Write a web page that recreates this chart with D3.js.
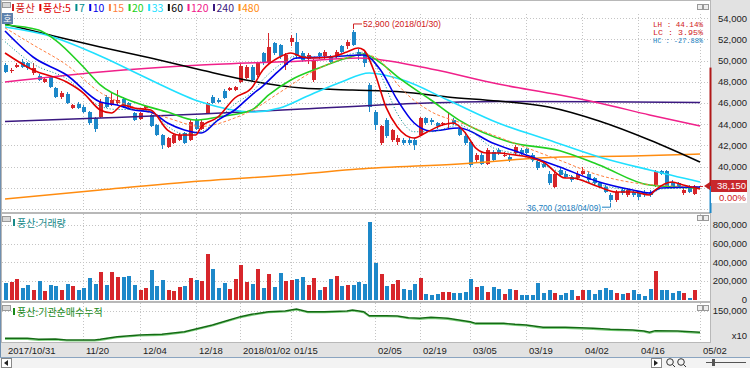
<!DOCTYPE html>
<html>
<head>
<meta charset="utf-8">
<script src="https://cdn.jsdelivr.net/npm/d3@7/dist/d3.min.js"></script>
<style>
  body { margin: 0; background: #fff; }
  svg { display: block; font-family: 'Liberation Sans', Arial, sans-serif; }
  .kr { font-family: 'Noto Sans CJK KR', sans-serif; }
</style>
</head>
<body>
<svg id="chart" width="750" height="368"></svg>
<script>
// trading days on the chart
const dates = [
  '2017/10/31',
  '2017/11/01','2017/11/02','2017/11/03','2017/11/06','2017/11/07','2017/11/08','2017/11/09','2017/11/10','2017/11/13','2017/11/14','2017/11/15',
  '2017/11/16','2017/11/17','2017/11/20','2017/11/21','2017/11/22','2017/11/23','2017/11/24','2017/11/27','2017/11/28','2017/11/29','2017/11/30',
  '2017/12/01','2017/12/04','2017/12/05','2017/12/06','2017/12/07','2017/12/08','2017/12/11','2017/12/12','2017/12/13','2017/12/14','2017/12/15',
  '2017/12/18','2017/12/19','2017/12/20','2017/12/21','2017/12/22','2017/12/26','2017/12/27','2017/12/28',
  '2018/01/02','2018/01/03','2018/01/04','2018/01/05','2018/01/08','2018/01/09','2018/01/10','2018/01/11','2018/01/12','2018/01/15','2018/01/16',
  '2018/01/17','2018/01/18','2018/01/19','2018/01/22','2018/01/23','2018/01/24','2018/01/25','2018/01/26','2018/01/29','2018/01/30','2018/01/31',
  '2018/02/01','2018/02/02','2018/02/05','2018/02/06','2018/02/07','2018/02/08','2018/02/09','2018/02/12','2018/02/13','2018/02/14','2018/02/19',
  '2018/02/20','2018/02/21','2018/02/22','2018/02/23','2018/02/26','2018/02/27','2018/02/28',
  '2018/03/02','2018/03/05','2018/03/06','2018/03/07','2018/03/08','2018/03/09','2018/03/12','2018/03/13','2018/03/14','2018/03/15','2018/03/16',
  '2018/03/19','2018/03/20','2018/03/21','2018/03/22','2018/03/23','2018/03/26','2018/03/27','2018/03/28','2018/03/29','2018/03/30',
  '2018/04/02','2018/04/03','2018/04/04','2018/04/05','2018/04/06','2018/04/09','2018/04/10','2018/04/11','2018/04/12','2018/04/13','2018/04/16',
  '2018/04/17','2018/04/18','2018/04/19','2018/04/20','2018/04/23','2018/04/24','2018/04/25','2018/04/26','2018/04/27','2018/04/30',
  '2018/05/02'
];

const openP = [
  49600,49050,49450,49900,49750,48800,48550,48000,48500,47400,46600,46900,45500,45950,45650,45200,44550,44700,46600,45800,
  46000,46400,46000,45100,44500,45500,44900,43950,43000,41900,42200,42500,43150,42500,44450,43600,45050,46600,46300,47100,
  47250,47250,48000,48350,49450,48650,50700,49750,51650,51500,49600,51800,51800,50700,50200,48200,50700,50400,50400,50400,
  51350,51350,52750,50850,50700,47700,45200,42200,44400,42500,42350,42500,42500,42500,43000,44550,44400,44100,44000,44050,
  44400,43600,42850,42350,40650,41100,40300,41400,41600,41100,40950,41250,41600,41650,41100,40450,40300,39350,38100,39700,
  39350,39050,38900,39350,39350,38900,38450,38100,37350,36850,37800,37350,37650,37500,37650,37650,38250,39550,39550,38600,
  38450,37500,38100,37450,38150
];
const highP = [
  49750,49350,49800,50200,49900,49750,48700,48350,48600,47500,47100,47000,45900,46100,45800,45300,44700,46400,46800,47050,
  47200,46550,46150,45200,45150,45850,45000,44050,43100,42800,43100,43200,43300,44400,44600,44400,46100,46750,46500,47300,
  47550,47650,49650,49550,49600,49900,50850,52600,51800,51600,50700,52450,52600,50900,50700,50200,50850,51000,50550,51000,
  51500,51950,52900,51150,50850,47850,45350,43950,44550,43600,43000,42700,42700,42700,44700,44700,44550,44250,44250,45200,
  44550,43800,43300,42500,41250,41250,41750,41600,41750,41400,41100,42050,41750,41800,41250,40650,40450,39550,39550,39850,
  39550,39200,39550,40000,39550,39050,38600,38250,37500,37800,37950,37950,37800,37650,37800,37800,39700,39700,39700,38750,
  38600,37950,38250,38300,38150
];
const lowP = [
  48800,48800,49300,49300,49100,48650,48100,47900,47450,46500,46400,45900,45400,45400,45100,43900,43300,44600,45500,45700,
  45800,45550,45500,44300,44400,45400,43700,42900,41700,41800,42100,42400,42100,42400,43500,43500,44950,45900,46000,46350,
  47100,47150,47900,48250,48000,48500,49600,49600,50500,50200,49100,51350,50200,49900,49700,48000,50200,50200,49750,50200,
  50700,51150,51350,50050,49450,45200,43450,42050,42700,42350,42050,42050,42050,41600,42850,43950,43950,43600,43800,43600,
  43950,42850,42050,40000,40450,40150,40150,40450,41100,40950,40450,41100,41100,41200,40450,39700,39850,38250,37950,39050,
  38900,38600,38750,39200,38600,38250,37950,37500,36700,36700,37350,37150,37150,36850,37150,37150,38100,39200,37950,37950,
  37950,37350,37500,37300,38150
];
const closeP = [
  48950,49150,49600,49450,49300,49300,48200,48250,47550,46600,46950,46000,45800,45500,45200,44100,43600,46150,45650,46250,
  46300,45650,45600,44400,45050,45750,43800,43000,42050,42700,43000,43000,42200,44250,43600,44250,46000,46000,46150,46450,
  47400,47550,49500,49450,48200,49750,49750,51300,50700,50400,50550,52100,50400,50050,50550,50050,50400,50850,49900,50850,
  50850,51800,51500,50400,49750,45650,43950,43800,42850,43450,42700,42200,42200,42050,44550,44100,44250,43800,44100,44150,
  44100,43000,42200,40150,41100,40300,41600,40650,41250,41150,40650,41900,41250,41300,40650,39850,40000,38450,39350,39200,
  39050,38750,39350,39550,38750,38450,38100,37650,36850,37650,37500,37800,37350,37150,37350,37350,39550,39350,38100,38100,
  38100,37800,37650,38150,38150
];
const volume = [
  179000,190000,218000,129000,154000,100000,197000,89000,161000,143000,100000,165000,150000,107000,122000,233000,165000,297000,161000,297000,
  243000,240000,251000,161000,100000,122000,312000,143000,211000,107000,93000,136000,143000,233000,211000,197000,494000,333000,129000,175000,
  118000,218000,369000,186000,165000,330000,120000,270000,135000,285000,195000,205000,220000,240000,160000,230000,105000,130000,220000,250000,
  150000,155000,160000,190000,165000,835000,394000,279000,143000,165000,208000,118000,107000,165000,233000,64000,46000,57000,78000,78000,
  71000,71000,78000,218000,136000,150000,82000,136000,118000,57000,118000,100000,46000,46000,53000,175000,71000,107000,71000,46000,
  71000,100000,35000,100000,100000,64000,107000,129000,100000,71000,57000,71000,100000,64000,39000,114000,304000,100000,100000,71000,
  89000,71000,21000,107000,0
];

// moving averages: [day index, price]
const ma5 = [[0,50730],[5,49120],[11,47990],[14,46950],[17,45350],[19,45070],[21,45820],[23,45540],[26,45350],[29,43460],[31,42990],[34,42990],[35,43750],[38,44690],[41,46480],[44,47420],[46,49120],[49,50350],[51,50730],[53,50350],[55,50250],[58,50350],[61,50820],[63,51200],[64,51010],[66,48800],[68,45600],[70,43750],[73,42710],[75,43180],[78,43930],[80,44120],[82,43270],[84,41760],[86,41290],[88,41290],[91,41100],[94,40820],[96,40440],[100,38930],[101,38930],[106,38090],[109,37610],[112,37610],[115,37330],[116,37800],[119,38560],[121,38270],[124,37900]];
const ma7 = [[0,51800],[5,49700],[11,48300],[17,45700],[20,45400],[23,45400],[26,45250],[29,43800],[32,43100],[35,43300],[38,44500],[41,45900],[44,47000],[46,48200],[49,49600],[52,50400],[58,50300],[64,50800],[67,48700],[70,45000],[73,43300],[76,43300],[81,43900],[87,41800],[92,41100],[99,39500],[106,38300],[112,37700],[115,37400],[117,37900],[124,38000]];
const ma10 = [[0,52800],[5,50350],[11,48650],[17,46100],[20,45820],[23,45350],[26,45160],[29,44120],[32,43460],[35,43180],[38,44400],[41,45350],[44,46760],[46,47610],[49,49120],[52,50250],[58,50350],[64,50540],[67,49120],[70,46300],[73,44120],[76,43370],[81,43650],[87,42240],[92,41290],[99,39970],[106,38560],[112,37800],[115,37520],[117,37990],[124,38090]];
const ma15 = [[0,53100],[5,51500],[11,49600],[17,47000],[23,45600],[29,44600],[35,43800],[41,44600],[44,45300],[49,47000],[55,49000],[61,50300],[64,50600],[67,50000],[70,47800],[76,45200],[81,44200],[87,43000],[92,42000],[99,40600],[106,39200],[112,38500],[118,38200],[124,38100]];
const ma20 = [[0,53370],[6,52900],[9,51950],[14,49400],[17,47710],[23,46100],[29,45160],[34,44400],[38,44690],[44,45350],[47,46760],[51,48180],[56,49310],[61,50250],[64,50630],[67,49800],[70,48500],[76,46290],[81,44400],[90,42330],[99,41500],[106,40160],[115,38270],[124,37990]];
const ma33 = [[0,53180],[8,52330],[17,50440],[26,48180],[35,46100],[44,45160],[49,45540],[54,46670],[60,47990],[65,48840],[71,48180],[79,46290],[88,44120],[97,42520],[106,40920],[115,39690],[124,38560]];
const ma60 = [[0,53460],[8,52420],[17,51290],[26,50250],[35,49120],[44,48080],[53,47420],[62,47240],[71,47050],[79,46580],[88,46200],[97,45630],[106,44310],[115,42520],[124,40440]];
const ma120 = [[0,47990],[17,48930],[35,49590],[53,49970],[63,50250],[76,49220],[88,47800],[99,46760],[106,46010],[115,44880],[124,43840]];
const ma240 = [[0,44260],[17,44590],[35,44970],[53,45440],[71,45920],[88,46150],[106,46130],[124,46060]];
const ma480 = [[0,36950],[17,37800],[35,38650],[53,39310],[63,39780],[81,40260],[99,40920],[112,41010],[124,41200]];

// institutional net buying, cumulative (x10 shares): [day index, value]
const instCum = [[0,13400],[4,13400],[6,8400],[9,9900],[11,5000],[16,5000],[17,8400],[20,21300],[24,29700],[28,33200],[32,46000],[37,79200],[40,104000],[42,120300],[44,132200],[47,145000],[50,148500],[52,158400],[54,145000],[57,145000],[61,148500],[62,153500],[64,145000],[65,125200],[68,125200],[70,123800],[72,115300],[74,112400],[76,117300],[79,112400],[83,95500],[84,87600],[89,87600],[91,82700],[93,79200],[96,67800],[100,67800],[105,62900],[108,57900],[112,54500],[114,49500],[115,43100],[116,51000],[120,49500],[124,43100]];

const xTickDates = ['2017/10/31','2017/11/20','2017/12/04','2017/12/18','2018/01/02','2018/01/15','2018/02/05','2018/02/19','2018/03/05','2018/03/19','2018/04/02','2018/04/16','2018/05/02'];
const xTickLabels = ['2017/10/31','11/20','12/04','12/18','2018/01/02','01/15','02/05','02/19','03/05','03/19','04/02','04/16','05/02'];
const priceTicks = [40000, 42000, 44000, 46000, 48000, 50000, 52000, 54000];
const priceGrid = [36000, 38000, 40000, 42000, 44000, 46000, 48000, 50000, 52000, 54000];
const volTicks = [0, 200000, 400000, 600000, 800000];
const instTicks = [150000];

const lastPrice = 38150;
const rangeTop = 49350;
const highMark = { idx: 62, price: 52900, text: '52,900 (2018/01/30)' };
const lowMark = { idx: 108, price: 36700, text: '36,700 (2018/04/09)' };
const statLines = [
  { text: 'LH :  44.14%', color: '#d02020' },
  { text: 'LC :   3.95%', color: '#d02020' },
  { text: 'HC : -27.88%', color: '#2080c0' }
];

const maSeries = [
  { name: '풍산', data: null, color: '#d42020' },
  { name: '풍산:5', data: ma5, color: '#e00000', width: 1.6 },
  { name: '7', data: ma7, color: '#008c8c', width: 1, dash: '1,2' },
  { name: '10', data: ma10, color: '#0000e8', width: 1.6 },
  { name: '15', data: ma15, color: '#ff8040', width: 1, dash: '3,2' },
  { name: '20', data: ma20, color: '#22d022', width: 1.6 },
  { name: '33', data: ma33, color: '#20e0ff', width: 1.6 },
  { name: '60', data: ma60, color: '#000000', width: 1.5 },
  { name: '120', data: ma120, color: '#f0208a', width: 1.5 },
  { name: '240', data: ma240, color: '#3a1880', width: 1.5 },
  { name: '480', data: ma480, color: '#ff8c10', width: 1.5 }
];

const upColor = '#d7262b';
const downColor = '#1d88c9';

const svg = d3.select('#chart');

// scales
const x = d3.scalePoint().domain(dates).range([5, 700]);
const yP = d3.scaleLinear().domain([35915, 54783]).range([210, 10]);
const yV = d3.scaleLinear().domain([0, 930000]).range([299.5, 213]);
const yI = d3.scaleLinear().domain([0, 150000]).range([341, 310.7]);
const xi = i => x(dates[i]);
const px = i => Math.round(xi(i));

// backgrounds
svg.append('rect').attr('width', 750).attr('height', 368).attr('fill', '#fff');
svg.append('rect').attr('x', 711).attr('y', 0).attr('width', 39).attr('height', 357).attr('fill', '#e2e2e2');
svg.append('rect').attr('x', 0).attr('y', 343).attr('width', 750).attr('height', 14).attr('fill', '#e2e2e2');
svg.append('rect').attr('x', 0).attr('y', 357).attr('width', 750).attr('height', 11).attr('fill', '#f3f3f3');
svg.append('line').attr('x1', 0).attr('x2', 750).attr('y1', 357.5).attr('y2', 357.5).attr('stroke', '#8aa4c0');

// panel frames
[[0, 212], [213, 301], [302, 342]].forEach(([t, b]) => {
  svg.append('rect').attr('x', 1.5).attr('y', t + 0.5).attr('width', 709).attr('height', b - t)
    .attr('fill', 'none').attr('stroke', '#b8b8b8');
});
svg.append('line').attr('x1', 0.5).attr('x2', 0.5).attr('y1', 0).attr('y2', 357).attr('stroke', '#6f8fb0');

// gridlines
const grid = svg.append('g').attr('stroke', '#c4c4c4').attr('stroke-dasharray', '1,2').attr('shape-rendering', 'crispEdges');
priceGrid.forEach(p => grid.append('line').attr('x1', 2).attr('x2', 710).attr('y1', Math.round(yP(p)) + 0.5).attr('y2', Math.round(yP(p)) + 0.5));
volTicks.slice(1).forEach(v => grid.append('line').attr('x1', 2).attr('x2', 710).attr('y1', Math.round(yV(v)) + 0.5).attr('y2', Math.round(yV(v)) + 0.5));
instTicks.forEach(v => grid.append('line').attr('x1', 2).attr('x2', 710).attr('y1', Math.round(yI(v)) + 0.5).attr('y2', Math.round(yI(v)) + 0.5));
xTickDates.slice(1).forEach(d => {
  const gx = Math.round(x(d)) + 0.5;
  [[14, 212], [214, 301], [303, 342]].forEach(([a, b]) => grid.append('line').attr('x1', gx).attr('x2', gx).attr('y1', a).attr('y2', b));
});

// clip for price panel
svg.append('clipPath').attr('id', 'clipP').append('rect').attr('x', 2).attr('y', 1).attr('width', 708).attr('height', 211);
const gPrice = svg.append('g').attr('clip-path', 'url(#clipP)');

// candles
const idx = d3.range(dates.length);
const candle = gPrice.append('g').attr('shape-rendering', 'crispEdges').selectAll('g').data(idx).join('g')
  .attr('fill', i => closeP[i] >= openP[i] ? upColor : downColor)
  .attr('stroke', i => closeP[i] >= openP[i] ? upColor : downColor);
candle.append('line')
  .attr('x1', i => px(i) + 0.5).attr('x2', i => px(i) + 0.5)
  .attr('y1', i => yP(highP[i])).attr('y2', i => yP(lowP[i]));
candle.append('rect')
  .attr('x', i => px(i) - 1.5)
  .attr('y', i => yP(Math.max(openP[i], closeP[i])))
  .attr('width', 4)
  .attr('height', i => Math.max(1, Math.abs(yP(openP[i]) - yP(closeP[i]))))
  .attr('stroke', 'none');

// moving average lines
maSeries.filter(s => s.data).slice().reverse().forEach(s => {
  gPrice.append('path')
    .datum(s.data)
    .attr('fill', 'none')
    .attr('stroke', s.color)
    .attr('stroke-width', s.width)
    .attr('stroke-dasharray', s.dash || null)
    .attr('d', d3.line().x(d => xi(d[0])).y(d => yP(d[1])).curve(d3.curveMonotoneX));
});

// high / low markers
gPrice.append('path')
  .attr('d', `M${px(highMark.idx) + 0.5},${yP(highMark.price) - 1} V${yP(highMark.price) - 6} H${px(highMark.idx) + 9}`)
  .attr('fill', 'none').attr('stroke', '#d02020');
gPrice.append('text').attr('x', px(highMark.idx) + 10).attr('y', yP(highMark.price) - 3)
  .attr('fill', '#d02020').attr('font-size', 9.5)
  .attr('textLength', 78).attr('lengthAdjust', 'spacingAndGlyphs').text(highMark.text);
gPrice.append('path')
  .attr('d', `M${px(lowMark.idx) - 8},${yP(lowMark.price) + 5.5} H${px(lowMark.idx) + 0.5} V${yP(lowMark.price) + 1}`)
  .attr('fill', 'none').attr('stroke', '#2080c0');
gPrice.append('text').attr('x', px(lowMark.idx) - 9).attr('y', yP(lowMark.price) + 9)
  .attr('text-anchor', 'end').attr('fill', '#2080c0').attr('font-size', 9.5)
  .attr('textLength', 74).attr('lengthAdjust', 'spacingAndGlyphs').text(lowMark.text);

// LH / LC / HC box
statLines.forEach((s, k) => {
  svg.append('text').attr('x', 703).attr('y', 27 + k * 8)
    .attr('text-anchor', 'end').attr('fill', s.color)
    .attr('font-family', 'Liberation Mono, monospace').attr('font-size', 7)
    .attr('textLength', 50).attr('lengthAdjust', 'spacingAndGlyphs')
    .text(s.text);
});

// legend on top
let lx = 12;
const legend = svg.append('g').attr('class', 'kr').attr('font-size', 10.5);
maSeries.forEach(s => {
  legend.append('rect').attr('x', lx).attr('y', 4).attr('width', 2).attr('height', 7).attr('fill', s.color);
  const t = legend.append('text').attr('x', lx + 3.5).attr('y', 11.5).attr('fill', s.color).text(s.name);
  lx += 3.5 + t.node().getComputedTextLength() + 4.5;
});
// small panel icons
[[2, 2], [2, 216], [2, 305]].forEach(([ix, iy]) => {
  svg.append('rect').attr('x', ix + 0.5).attr('y', iy + 0.5).attr('width', 8).attr('height', 5)
    .attr('fill', '#d8d8d8').attr('stroke', '#999');
});
[[697, 4], [697, 215], [697, 305]].forEach(([bx, by]) => {
  [0, 6].forEach(o => svg.append('rect').attr('x', bx + o + 0.5).attr('y', by + 0.5).attr('width', 5).attr('height', 5)
    .attr('fill', '#eee').attr('stroke', '#999'));
});
svg.append('rect').attr('x', 2).attr('y', 13).attr('width', 11).attr('height', 11).attr('fill', '#5f82ad');
svg.append('text').attr('class', 'kr').attr('x', 7.5).attr('y', 22).attr('text-anchor', 'middle')
  .attr('fill', '#fff').attr('font-size', 9).text('호');

// price axis
const axisText = svg.append('g').attr('font-size', 9.5).attr('fill', '#222').attr('text-anchor', 'end');
priceTicks.forEach(p => axisText.append('text').attr('x', 747).attr('y', yP(p)).attr('dy', '0.35em').text(d3.format(',')(p)));

// range bar and current price
svg.append('line').attr('x1', 710.5).attr('x2', 710.5).attr('y1', yP(rangeTop)).attr('y2', yP(lastPrice))
  .attr('stroke', '#b01818').attr('stroke-width', 2);
svg.append('line').attr('x1', 710.5).attr('x2', 710.5).attr('y1', yP(lastPrice)).attr('y2', 213)
  .attr('stroke', '#1d88c9').attr('stroke-width', 2);
const cy = Math.round(yP(lastPrice));
svg.append('path').attr('d', `M704,${cy} L710,${cy - 4} L710,${cy + 4} Z`).attr('fill', '#c02020');
svg.append('rect').attr('x', 711).attr('y', cy - 6).attr('width', 36).attr('height', 12).attr('fill', '#c8282d');
svg.append('text').attr('x', 746).attr('y', cy).attr('dy', '0.35em').attr('text-anchor', 'end')
  .attr('fill', '#fff').attr('font-size', 9.5).text(d3.format(',')(lastPrice));
svg.append('rect').attr('x', 711).attr('y', cy + 6).attr('width', 36).attr('height', 11).attr('fill', '#fff');
svg.append('text').attr('x', 746).attr('y', cy + 11.5).attr('dy', '0.35em').attr('text-anchor', 'end')
  .attr('fill', '#d02020').attr('font-size', 9.5).text('0.00%');

// volume bars
svg.append('g').attr('shape-rendering', 'crispEdges').selectAll('rect').data(idx).join('rect')
  .attr('x', i => px(i) - 1.5)
  .attr('y', i => yV(volume[i]))
  .attr('width', 4.5)
  .attr('height', i => yV(0) - yV(volume[i]))
  .attr('fill', i => closeP[i] >= openP[i] ? upColor : downColor);
volTicks.forEach(v => axisText.append('text').attr('x', 747).attr('y', yV(v)).attr('dy', '0.35em').text(d3.format(',')(v)));
const volLegend = svg.append('g').attr('class', 'kr').attr('font-size', 10);
volLegend.append('rect').attr('x', 13).attr('y', 219).attr('width', 2).attr('height', 7).attr('fill', '#188a8a');
volLegend.append('text').attr('x', 17).attr('y', 226.5).attr('fill', '#188a8a').text('풍산:거래량');

// institutional cumulative line
svg.append('path').datum(instCum)
  .attr('fill', 'none').attr('stroke', '#7ccf7c').attr('stroke-width', 1.2)
  .attr('d', d3.line().x(d => xi(d[0])).y(d => yI(d[1]) + 1));
svg.append('path').datum(instCum)
  .attr('fill', 'none').attr('stroke', '#136b13').attr('stroke-width', 1.4)
  .attr('d', d3.line().x(d => xi(d[0])).y(d => yI(d[1])));
instTicks.forEach(v => axisText.append('text').attr('x', 747).attr('y', yI(v)).attr('dy', '0.35em').text(d3.format(',')(v)));
axisText.append('text').attr('x', 747).attr('y', 336).attr('dy', '0.35em').text('x10');
const instLegend = svg.append('g').attr('class', 'kr').attr('font-size', 10);
instLegend.append('rect').attr('x', 13).attr('y', 308).attr('width', 2).attr('height', 7).attr('fill', '#1a8a1a');
instLegend.append('text').attr('x', 17).attr('y', 315.5).attr('fill', '#1a8a1a').text('풍산:기관순매수누적');

// date axis
const xAxis = svg.append('g').attr('font-size', 9.5).attr('fill', '#222');
xTickDates.forEach((d, k) => {
  xAxis.append('text').attr('x', Math.round(x(d)) + 3).attr('y', 354).text(xTickLabels[k]);
});

// scrollbar bits
svg.append('rect').attr('x', 1.5).attr('y', 358.5).attr('width', 10).attr('height', 9).attr('fill', '#fff').attr('stroke', '#888');
svg.append('path').attr('d', 'M4,363 L8,360 L8,366 Z').attr('fill', '#222');
svg.append('rect').attr('x', 651.5).attr('y', 358.5).attr('width', 10).attr('height', 9).attr('fill', '#fff').attr('stroke', '#888');
svg.append('path').attr('d', 'M658,363 L654,360 L654,366 Z').attr('fill', '#222');
[670, 681].forEach(cx0 => {
  svg.append('circle').attr('cx', cx0).attr('cy', 362).attr('r', 3.3).attr('fill', 'none').attr('stroke', '#333');
  svg.append('line').attr('x1', cx0 + 2.5).attr('y1', 364.5).attr('x2', cx0 + 5).attr('y2', 367).attr('stroke', '#333');
});
svg.append('line').attr('x1', 706).attr('x2', 746).attr('y1', 362.5).attr('y2', 362.5).attr('stroke', '#555');
svg.append('rect').attr('x', 712).attr('y', 359).attr('width', 3).attr('height', 7).attr('fill', '#555');
</script>
</body>
</html>
